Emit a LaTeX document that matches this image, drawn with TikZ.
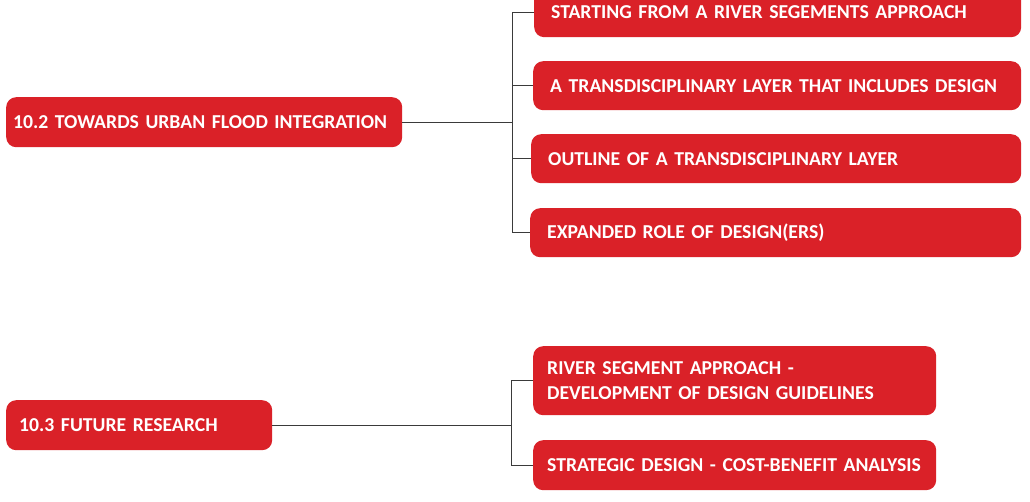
\documentclass[tikz,border=0pt]{standalone}
\usepackage{fontspec}
\setmainfont{Carlito}
\definecolor{boxred}{HTML}{DA2128}
\definecolor{linegray}{HTML}{3A3A3A}
\begin{document}
\begin{tikzpicture}[x=1pt,y=-1pt,
  redbox/.style={fill=boxred, rounded corners=10pt, anchor=north west,
    inner ysep=0pt, text=white, font=\fontsize{19.7}{25}\selectfont\bfseries,
    align=left},
  conn/.style={draw=linegray, line width=1pt}]
\useasboundingbox (0,0) rectangle (1030,502);
\clip (0,0) rectangle (1030,502);
% left boxes
\node[redbox, minimum width=396pt, minimum height=50pt, inner xsep=7pt, text width=382pt] (A) at (6,97) {10.2 TOWARDS URBAN FLOOD INTEGRATION};
\node[redbox, minimum width=266pt, minimum height=50pt, inner xsep=13pt, text width=240pt] (B) at (6,400) {10.3 FUTURE RESEARCH};
% right boxes upper
\node[redbox, minimum width=487pt, minimum height=50pt, inner xsep=17pt, text width=453pt] (b1) at (534,-13) {STARTING FROM A RIVER SEGEMENTS APPROACH};
\node[redbox, minimum width=488pt, minimum height=49pt, inner xsep=17pt, text width=454pt] (b2) at (533,61) {A TRANSDISCIPLINARY LAYER THAT INCLUDES DESIGN};
\node[redbox, minimum width=490pt, minimum height=49pt, inner xsep=17pt, text width=456pt] (b3) at (531,134) {OUTLINE OF A TRANSDISCIPLINARY LAYER};
\node[redbox, minimum width=491pt, minimum height=49pt, inner xsep=17pt, text width=457pt] (b4) at (530,208) {EXPANDED ROLE OF DESIGN(ERS)};
% right boxes lower
\node[redbox, minimum width=403pt, minimum height=69pt, inner xsep=14pt, text width=375pt] (b5) at (533,346) {RIVER SEGMENT APPROACH -\\DEVELOPMENT OF DESIGN GUIDELINES};
\node[redbox, minimum width=403pt, minimum height=50pt, inner xsep=14pt, text width=375pt] (b6) at (533,440) {STRATEGIC DESIGN - COST-BENEFIT ANALYSIS};
% junctions
\coordinate (j1) at (512,122);
\coordinate (j2) at (511,425);
\draw[conn] (A.east) -- (A.east -| j1);
\draw[conn] (b1.west) -- (b1.west -| j1) -- (b4.west -| j1) -- (b4.west);
\draw[conn] (b2.west) -- (b2.west -| j1);
\draw[conn] (b3.west) -- (b3.west -| j1);
\draw[conn] (B.east) -- (B.east -| j2);
\draw[conn] (b5.west) -- (b5.west -| j2) -- (b6.west -| j2) -- (b6.west);
\end{tikzpicture}
\end{document}
